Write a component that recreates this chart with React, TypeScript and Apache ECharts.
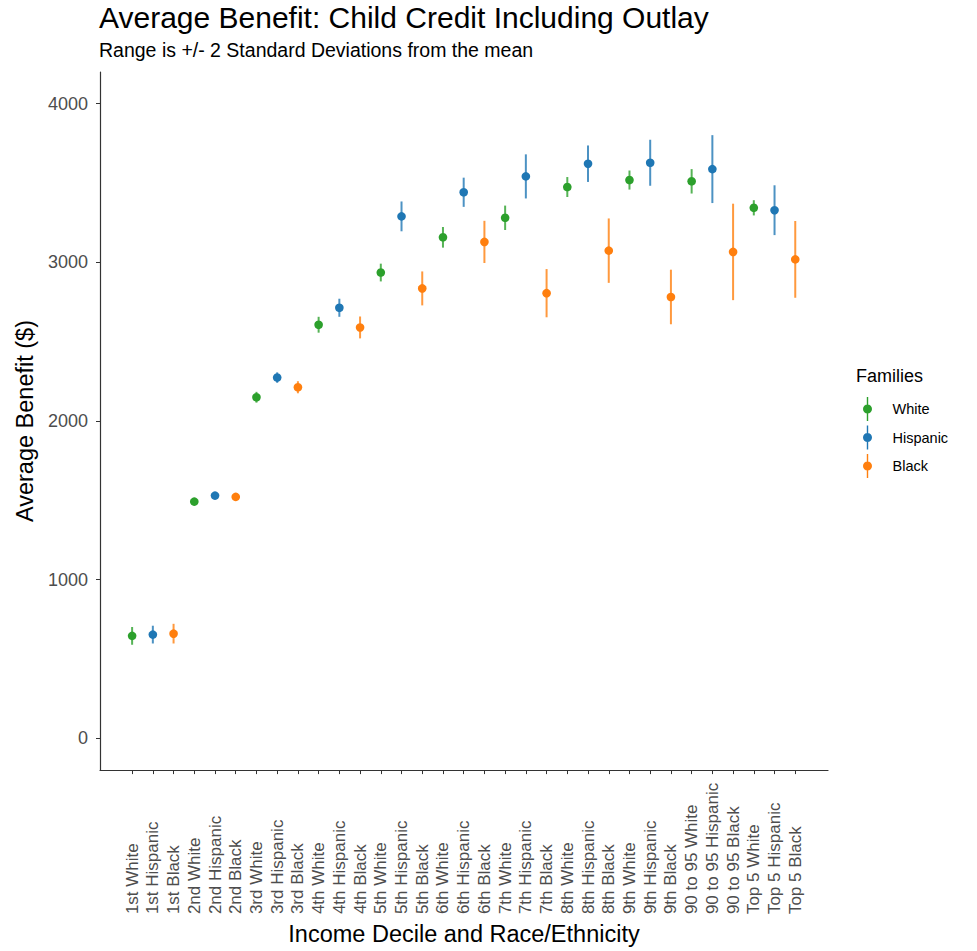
import React, { useEffect, useRef } from "react";
import * as echarts from "echarts";

const deciles = ["1st", "2nd", "3rd", "4th", "5th", "6th", "7th", "8th", "9th", "90 to 95", "Top 5"];
const groups = ["White", "Hispanic", "Black"];
const groupColors = ["#2ca02c", "#1f77b4", "#ff7f0e"];

const categories = deciles.flatMap((d) => groups.map((g) => `${d} ${g}`));

const whiteMean = [646, 1492, 2150, 2607, 2936, 3158, 3281, 3475, 3519, 3511, 3344];
const whiteTwoSD = [56, 12, 34, 50, 56, 65, 77, 63, 60, 77, 48];
const hispanicMean = [654, 1530, 2274, 2714, 3290, 3442, 3542, 3622, 3628, 3588, 3329];
const hispanicTwoSD = [56, 10, 33, 57, 94, 92, 139, 115, 145, 214, 157];
const blackMean = [660, 1522, 2213, 2590, 2836, 3129, 2806, 3074, 2782, 3066, 3019];
const blackTwoSD = [62, 14, 38, 69, 107, 133, 152, 203, 172, 304, 242];

const yTicks = [0, 1000, 2000, 3000, 4000];

const groupMeans = [whiteMean, hispanicMean, blackMean];
const groupSD = [whiteTwoSD, hispanicTwoSD, blackTwoSD];

const FONT = "'Liberation Sans', Arial, sans-serif";
const legendIcon =
  "path://M4.3,0H5.7V24H4.3Z M0.5,12A4.5,4.5 0 1,1 9.5,12A4.5,4.5 0 1,1 0.5,12Z";

export default function App() {
  const ref = useRef<HTMLDivElement>(null);
  useEffect(() => {
    if (!ref.current) return;
    const chart = echarts.init(ref.current, undefined, { renderer: "svg" });
    const series = groups.map((g, gi) => {
      const color = groupColors[gi];
      const data = deciles.map((d, di) => {
        const idx = categories.indexOf(`${d} ${g}`);
        const m = groupMeans[gi][di];
        const s = groupSD[gi][di];
        return [idx, m, m - s, m + s];
      });
      return {
        name: g,
        type: "custom",
        itemStyle: { color },
        data,
        renderItem: (params: any, api: any) => {
          const x = api.value(0);
          const pM = api.coord([x, api.value(1)]);
          const pLo = api.coord([x, api.value(2)]);
          const pHi = api.coord([x, api.value(3)]);
          return {
            type: "group",
            children: [
              {
                type: "line",
                shape: { x1: pLo[0], y1: pLo[1], x2: pHi[0], y2: pHi[1] },
                style: { stroke: color, lineWidth: 2, opacity: 0.8 },
              },
              {
                type: "circle",
                shape: { cx: pM[0], cy: pM[1], r: 4.3 },
                style: { fill: color },
              },
            ],
          };
        },
      };
    });

    chart.setOption({
      animation: false,
      backgroundColor: "#ffffff",
      textStyle: { fontFamily: FONT },
      title: {
        left: 99,
        top: 2,
        padding: 0,
        text: "Average Benefit: Child Credit Including Outlay",
        subtext: "Range is +/- 2 Standard Deviations from the mean",
        itemGap: 8,
        textStyle: { fontFamily: FONT, fontSize: 30, fontWeight: "normal", color: "#000" },
        subtextStyle: { fontFamily: FONT, fontSize: 19.5, color: "#000" },
      },
      graphic: [
        {
          type: "text",
          left: 856,
          top: 367,
          style: { text: "Families", fontFamily: FONT, fontSize: 18, fill: "#000" },
        },
      ],
      legend: {
        orient: "vertical",
        left: 863,
        top: 397,
        padding: 0,
        itemGap: 4.5,
        itemWidth: 10,
        itemHeight: 24,
        data: groups.map((g) => ({ name: g, icon: legendIcon })),
        textStyle: { fontFamily: FONT, fontSize: 14.5, color: "#000", padding: [0, 0, 0, 15] },
      },
      grid: { left: 100, right: 149, top: 72, bottom: 178 },
      xAxis: {
        type: "value",
        min: -1.55,
        max: 33.58,
        name: "Income Decile and Race/Ethnicity",
        nameLocation: "middle",
        nameGap: 150,
        nameTextStyle: { fontFamily: FONT, fontSize: 23.5, color: "#000" },
        splitLine: { show: false },
        axisLine: { show: true, onZero: false, lineStyle: { color: "#333", width: 1.2 } },
        axisTick: {
          show: true,
          length: 4,
          lineStyle: { color: "#333" },
          customValues: categories.map((_, i) => i),
        },
        axisLabel: {
          customValues: categories.map((_, i) => i),
          formatter: (v: number) => categories[Math.round(v)] ?? "",
          rotate: 90,
          align: "left",
          verticalAlign: "middle",
          margin: 144,
          fontFamily: FONT,
          fontSize: 17,
          color: "#4d4d4d",
        },
      },
      yAxis: {
        type: "value",
        min: -200,
        max: 4200,
        name: "Average Benefit ($)",
        nameLocation: "middle",
        nameGap: 58,
        nameTextStyle: { fontFamily: FONT, fontSize: 23.5, color: "#000" },
        splitLine: { show: false },
        axisLine: { show: true, onZero: false, lineStyle: { color: "#333", width: 1.2 } },
        axisTick: { show: true, length: 4, lineStyle: { color: "#333" }, customValues: yTicks },
        axisLabel: {
          customValues: yTicks,
          formatter: (v: number) => String(v),
          margin: 12,
          fontFamily: FONT,
          fontSize: 18,
          color: "#4d4d4d",
        },
      },
      series,
    });
    return () => chart.dispose();
  }, []);
  return <div ref={ref} style={{ width: 977, height: 951, position: "absolute", left: 0, top: 0 }} />;
}
